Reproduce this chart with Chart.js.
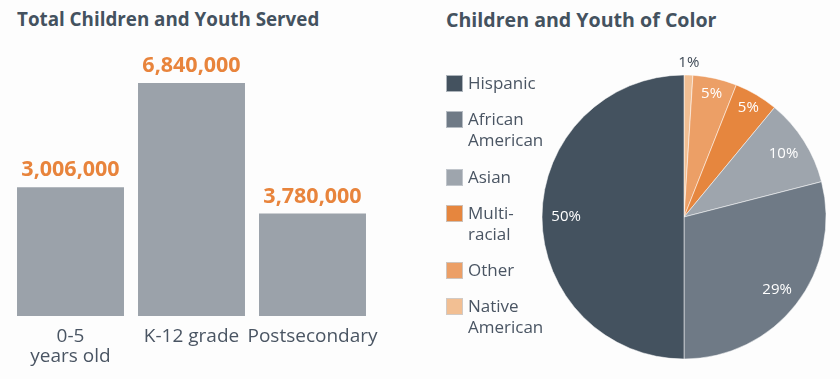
<!DOCTYPE html>
<html>
<head>
<meta charset="utf-8">
<script src="https://cdn.jsdelivr.net/npm/chart.js@4.4.1/dist/chart.umd.min.js"></script>
<style>
  html, body { margin: 0; padding: 0; background: #fdfdfd; overflow: hidden; }
  body { width: 840px; height: 379px; position: relative; font-family: "Open Sans", sans-serif; color: #44525f; }
  .title { position: absolute; top: 6px; font-weight: 700; color: #44525f; white-space: nowrap; }
  #barCanvas { position: absolute; left: 0; top: 0; }
  #pieCanvas { position: absolute; left: 530px; top: 40px; }
  #legend { position: absolute; left: 446px; top: 72px; }
  .item { position: relative; padding-left: 22px; font-size: 17px; line-height: 21px; color: #4a5563; }
  .item .box { position: absolute; left: 0; top: 3px; width: 15px; height: 15px; border: 1px solid rgba(200,205,210,0.8); }
</style>
</head>
<body>
<div class="title" style="left:17px; font-size:18.8px">Total Children and Youth Served</div>
<div class="title" style="left:446px; font-size:19.6px">Children and Youth of Color</div>
<canvas id="barCanvas" width="400" height="379"></canvas>
<canvas id="pieCanvas" width="310" height="339"></canvas>
<div id="legend"></div>
<script>
// bar chart: categories, heights as drawn, printed values
const barCategories = [['0-5', 'years old'], 'K-12 grade', 'Postsecondary'];
const barHeights = [3780000, 6840000, 3006000];
const barLabels = ['3,006,000', '6,840,000', '3,780,000'];

// pie chart, listed clockwise from the top
const pieLabels = [['Native', 'American'], 'Other', ['Multi-', 'racial'], 'Asian', ['African', 'American'], 'Hispanic'];
const pieValues = [1, 5, 5, 10, 29, 50];
const pieColors = ['#f2bf93', '#ec9f66', '#e6863e', '#9ea5ad', '#6f7a86', '#44525f'];

const barValueLabels = {
  id: 'barValueLabels',
  afterDatasetsDraw(chart) {
    const c = chart.ctx;
    c.save();
    c.font = '700 21.5px "Open Sans"';
    c.fillStyle = '#e8843c';
    c.textAlign = 'center';
    c.textBaseline = 'alphabetic';
    chart.getDatasetMeta(0).data.forEach((bar, i) => {
      c.fillText(barLabels[i], bar.x, bar.y - 11);
    });
    c.restore();
  }
};

new Chart(document.getElementById('barCanvas'), {
  type: 'bar',
  data: {
    labels: barCategories,
    datasets: [{ data: barHeights, backgroundColor: '#9ba2aa', categoryPercentage: 1, barPercentage: 0.884 }]
  },
  options: {
    responsive: false,
    animation: false,
    layout: { padding: { left: 10, right: 27, top: 43.5, bottom: 0 } },
    plugins: { legend: { display: false }, tooltip: { enabled: false } },
    scales: {
      y: { display: false, min: 0, max: 8000000 },
      x: {
        grid: { display: false },
        border: { display: false },
        ticks: { color: '#4a5563', font: { family: 'Open Sans', size: 19, lineHeight: 1.05 }, padding: 3, maxRotation: 0, autoSkip: false },
        afterFit(scale) { scale.height = 63; }
      }
    }
  },
  plugins: [barValueLabels]
});

const pieValueLabels = {
  id: 'pieValueLabels',
  afterDatasetsDraw(chart) {
    const c = chart.ctx;
    c.save();
    c.font = '15px "Open Sans"';
    c.textAlign = 'center';
    c.textBaseline = 'middle';
    chart.getDatasetMeta(0).data.forEach((arc, i) => {
      const v = pieValues[i];
      const a = (arc.startAngle + arc.endAngle) / 2;
      let f = 0.83;
      if (v < 2) f = 1.09;
      else if (v <= 5) f = 0.89;
      const r = arc.outerRadius * f;
      c.fillStyle = v < 2 ? '#3f4a56' : '#ffffff';
      c.fillText(v + '%', arc.x + Math.cos(a) * r, arc.y + Math.sin(a) * r);
    });
    c.restore();
  }
};

new Chart(document.getElementById('pieCanvas'), {
  type: 'pie',
  data: {
    labels: pieLabels,
    datasets: [{ data: pieValues, backgroundColor: pieColors, borderColor: 'rgba(255,255,255,0.5)', borderWidth: 1, radius: 142 }]
  },
  options: {
    responsive: false,
    animation: false,
    layout: { padding: { left: 0, right: 2, top: 15, bottom: 0 } },
    plugins: { legend: { display: false }, tooltip: { enabled: false } }
  },
  plugins: [pieValueLabels]
});

// legend in reading order: Hispanic first
const legend = document.getElementById('legend');
for (let i = pieLabels.length - 1; i >= 0; i--) {
  const lbl = pieLabels[i];
  const item = document.createElement('div');
  item.className = 'item';
  item.style.marginBottom = '15.3px';
  item.innerHTML = '<span class="box" style="background:' + pieColors[i] + '"></span>' +
    (Array.isArray(lbl) ? lbl.join('<br>') : lbl);
  legend.appendChild(item);
}
</script>
</body>
</html>
